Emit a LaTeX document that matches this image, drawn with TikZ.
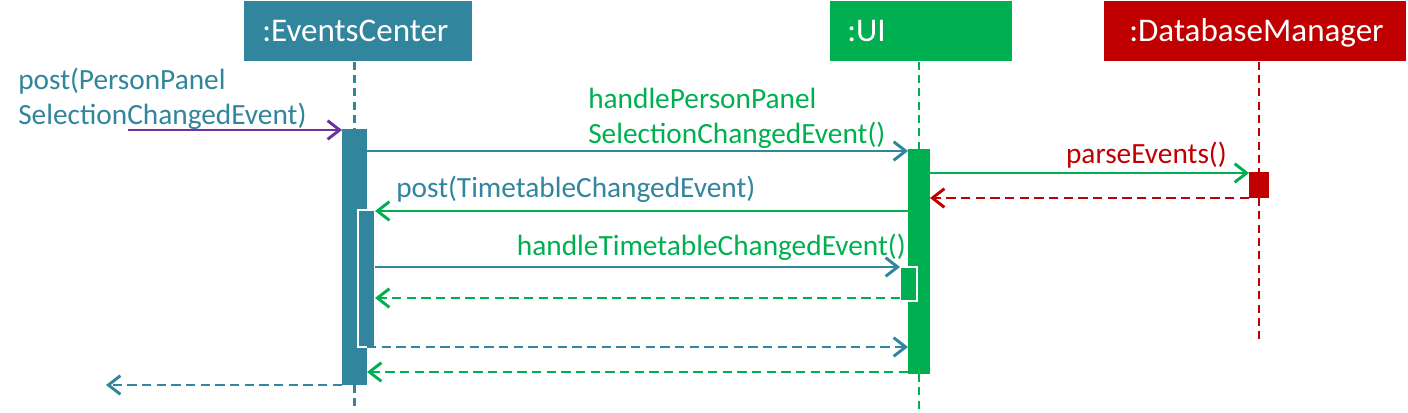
\documentclass[tikz,border=0pt]{standalone}
\usepackage{fontspec}
\setmainfont{Carlito}
\usepackage{xcolor}
\usetikzlibrary{arrows.meta,positioning,calc}
\definecolor{ecteal}{RGB}{49,133,156}
\definecolor{uigreen}{RGB}{0,176,80}
\definecolor{dbred}{RGB}{192,0,0}
\definecolor{extpurple}{RGB}{112,48,160}

\begin{document}
\begin{tikzpicture}[
    x=0.75pt, y=-0.75pt,
    header/.style={rectangle, anchor=north west, minimum height=45pt, text height=18.5pt, text depth=3.5pt, align=left, text=white, font=\fontsize{24.8}{28}\selectfont},
    lifeline/.style={line width=1.7pt, dash pattern=on 6pt off 4pt},
    act/.style={rectangle, anchor=north west, inner sep=0pt, outer sep=0pt},
    msg/.style={line width=2.2pt, -{Straight Barb[length=9pt,width=14pt]}},
    reply/.style={msg, dash pattern=on 7pt off 4pt},
    lbl/.style={inner sep=0pt, align=left, font=\fontsize{22}{26}\selectfont}
]
\useasboundingbox (0,0) rectangle (1408,413);

% Objects
\node[header, fill=ecteal, inner xsep=13.5pt, text width=144pt] (ec) at (244,1) {:EventsCenter};
\node[header, fill=uigreen, inner xsep=12.75pt, text width=111pt] (ui) at (830,1) {:UI};
\node[header, fill=dbred, inner xsep=18.75pt, text width=189pt] (db) at (1104,1) {:DatabaseManager};

% Activation bars
\node[act, fill=ecteal, minimum width=18.75pt, minimum height=192pt] (ec1) at (342,129) {};
\node[act, fill=uigreen, minimum width=16.5pt, minimum height=168.75pt] (ui1) at (908,149) {};
\node[act, fill=dbred, minimum width=15pt, minimum height=19.5pt] (db1) at (1249,172) {};

% Lifelines
\draw[lifeline, ecteal] (ec1.center |- ec.south) -- (ec1.north);
\draw[lifeline, ecteal] (ec1.south) -- (ec1.center |- 0,410);
\draw[lifeline, uigreen] (ui1.center |- ui.south) -- (ui1.north);
\draw[lifeline, uigreen] (ui1.south) -- (ui1.center |- 0,410);
\draw[lifeline, dbred] (db1.center |- db.south) -- (db1.north);
\draw[lifeline, dbred] (db1.south) -- (db1.center |- 0,340);

% Nested activations
\node[act, fill=ecteal, draw=white, line width=1.2pt, minimum width=12.75pt, minimum height=102.75pt] (ec2) at (358,210) {};
\node[act, fill=uigreen, draw=white, line width=1.2pt, minimum width=12.75pt, minimum height=25.5pt] (ui2) at (900,267) {};

% Messages
\coordinate (src) at (128,130);
\coordinate (snk) at (106,385);
\draw[msg, extpurple] (src) -- (ec1.west |- src);
\draw[msg, ecteal] (ec1.east |- 0,151) -- (ui1.west |- 0,151);
\draw[msg, uigreen] (ui1.east |- 0,173) -- (db1.west |- 0,173);
\draw[reply, dbred] (db1.west |- 0,198) -- (ui1.east |- 0,198);
\draw[msg, uigreen] (ui1.west |- 0,211) -- (ec2.east |- 0,211);
\draw[msg, ecteal] (ec2.east |- 0,267) -- (ui2.west |- 0,267);
\draw[reply, uigreen] (ui2.west |- 0,298) -- (ec2.east |- 0,298);
\draw[reply, ecteal] (ec1.east |- 0,347) -- (ui1.west |- 0,347);
\draw[reply, uigreen] (ui1.west |- 0,372) -- (ec1.east |- 0,372);
\draw[reply, ecteal] (ec1.west |- snk) -- (snk);

% Labels
\node[lbl, text=ecteal, anchor=north west] (post1) at (18,68) {post(PersonPanel\\SelectionChangedEvent)};
\node[lbl, text=uigreen, anchor=north west] (handle1) at (588,88) {handlePersonPanel\\SelectionChangedEvent()};
\node[lbl, text=dbred, anchor=base east] (parse) at (1227,164) {parseEvents()};
\node[lbl, text=ecteal, anchor=base west] (post2) at (396,198) {post(TimetableChangedEvent)};
\node[lbl, text=uigreen, anchor=base east] (handle2) at (906,255) {handleTimetableChangedEvent()};

\end{tikzpicture}
\end{document}
